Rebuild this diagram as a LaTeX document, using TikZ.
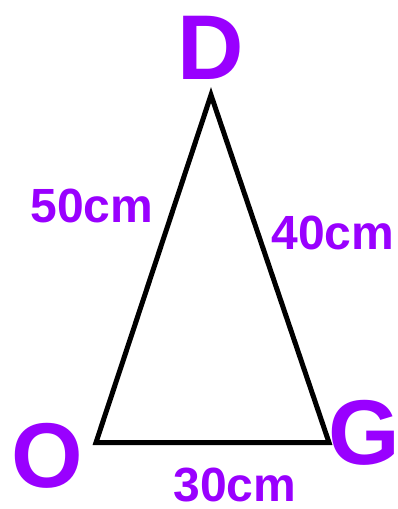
\documentclass[tikz,border=0pt]{standalone}
\usepackage{fontspec}
\setmainfont{Liberation Sans}
\usepackage{xcolor}
\definecolor{labelpurple}{RGB}{153,0,255}

\begin{document}
\begin{tikzpicture}[x=1pt,y=-1pt,
  vertexlabel/.style={text=labelpurple,inner sep=0pt,font=\fontsize{92}{92}\selectfont\bfseries},
  sidelabel/.style={text=labelpurple,inner sep=0pt,font=\fontsize{48}{48}\selectfont\bfseries}]
  \useasboundingbox (0,0) rectangle (397,509);
  \coordinate (O) at (96,442.5);
  \coordinate (G) at (329,442.5);
  \coordinate (D) at (211,95);
  \draw[line width=5pt] (O)--(G)--(D)--cycle;
  \node[vertexlabel] (labelD) at (211,47.5) {D};
  \node[vertexlabel] (labelO) at (47.5,456) {O};
  \node[vertexlabel] (labelG) at (364,433) {G};
  \node[sidelabel] (sideOD) at (92,206) {50cm};
  \node[sidelabel] (sideDG) at (333,233) {40cm};
  \node[sidelabel] (sideOG) at (235,485) {30cm};
\end{tikzpicture}
\end{document}
